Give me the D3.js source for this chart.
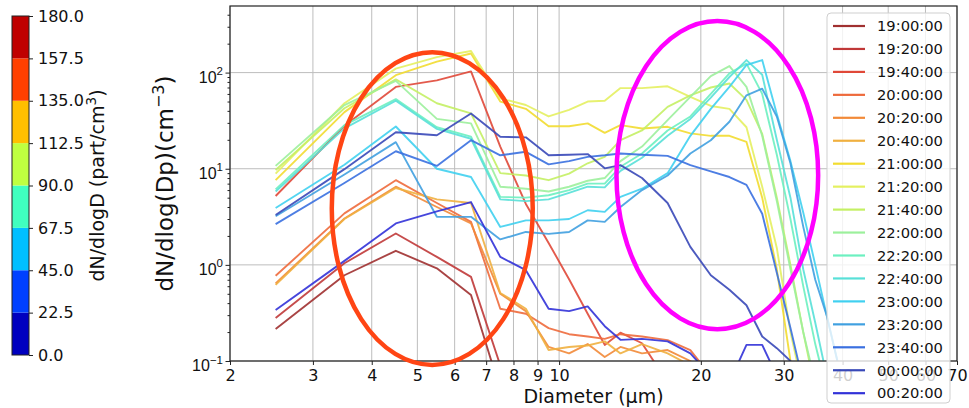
<!DOCTYPE html>
<html><head><meta charset="utf-8">
<script src="https://cdn.jsdelivr.net/npm/d3@7"></script>
<style>
body{margin:0;background:#fff;}
svg{display:block;font-family:"DejaVu Sans",sans-serif;}
</style>
</head><body>
<svg id="c" width="969" height="408"></svg>
<script>
// ---------------- data ----------------
const diameters = [2.5, 3.5, 4.5, 5.5, 6.5, 7.5, 8.5, 9.5, 10.5, 11.5, 12.5, 13.5, 15, 17, 19, 21, 23, 25, 27, 29, 31, 33, 35, 37, 39];
const times = ["19:00:00","19:20:00","19:40:00","20:00:00","20:20:00","20:40:00","21:00:00","21:20:00","21:40:00","22:00:00","22:20:00","22:40:00","23:00:00","23:20:00","23:40:00","00:00:00","00:20:00"];

const s1900 = [0.215, 0.78, 1.40, 0.92, 0.485, 0.05];
const s1920 = [0.28, 1.04, 2.12, 1.21, 0.75, 0.09];
const s1940 = [5.2, 28, 71, 83, 103, 17, 4.3, 1.69, 0.71, 0.31, 0.147, 0.197, 0.153, 0.06];
const s2000 = [0.77, 3.43, 7.6, 4.4, 2.8, 0.35, 0.31, 0.22, 0.19, 0.18, 0.17, 0.19, 0.18, 0.165, 0.13, 0.07];
const s2020 = [0.64, 3.04, 6.5, 4.0, 2.7, 0.50, 0.33, 0.14, 0.12, 0.15, 0.11, 0.14, 0.12, 0.13, 0.10, 0.06];
const s2040 = [0.62, 3.0, 6.3, 4.8, 4.4, 0.51, 0.35, 0.13, 0.14, 0.145, 0.16, 0.12, 0.15, 0.12, 0.09];
const s2100 = [7.6, 38.8, 94, 130, 158, 50, 42, 27.7, 27.7, 29.6, 23.6, 28.4, 26.2, 27.3, 23.3, 22, 22, 19, 5, 0.9, 0.1, 0.03];
const s2120 = [8.9, 48, 110, 145, 168, 54, 46, 35, 41, 50, 51, 69, 69, 72, 56, 45, 42, 27, 6.5, 1.5, 0.2, 0.05];
const s2140 = [9.7, 42.6, 85, 48, 37.6, 9, 8.5, 7.6, 8.9, 11.4, 13.3, 19.8, 25, 44, 58, 70, 77, 52, 23, 5, 1.0, 0.2, 0.05];
const s2200 = [10.7, 46, 82, 33, 29.6, 6.5, 6.2, 5.8, 6.5, 7.5, 8, 12, 17, 32, 56, 92, 117, 71, 22, 4.6, 0.9, 0.2, 0.06];
const s2220 = [6.1, 28.4, 53, 27, 21.6, 5.1, 5.0, 5.3, 6.0, 7.0, 7.0, 10.5, 14.4, 25, 35, 60, 98, 124, 60, 14, 3, 0.6, 0.15, 0.05];
const s2240 = [5.8, 26.3, 51, 26, 20.5, 4.8, 4.6, 4.8, 5.6, 6.5, 6.4, 9.5, 13, 22, 33, 55, 90, 135, 95, 20, 5, 0.9, 0.25, 0.07];
const s2300 = [3.9, 11, 27.5, 10, 8.2, 2.48, 2.9, 2.9, 3.0, 3.7, 3.56, 5.1, 6.2, 9, 22, 42, 71, 120, 135, 37, 12, 3.5, 1.0, 0.3, 0.1];
const s2320 = [3.2, 8.7, 18.9, 3.16, 3.16, 1.84, 2.2, 2.1, 2.2, 2.9, 2.8, 4.0, 6.0, 8.5, 14.4, 19.8, 30.8, 58, 68, 35, 11.4, 2.5, 0.7, 0.3, 0.1];
const s2340 = [2.65, 7.1, 15.2, 10.7, 19.8, 13.8, 15, 11.1, 12, 13.3, 13.8, 14.4, 14, 13.6, 10.9, 9.4, 8.2, 6.8, 3.4, 0.83, 0.22, 0.06];
const s0000 = [3.3, 9.9, 24, 22.3, 37.6, 21.5, 21.2, 13.8, 14, 14.2, 10.1, 10.9, 8.0, 4.4, 1.54, 0.78, 0.55, 0.38, 0.18, 0.136, 0.1, 0.07];
const s0020 = [0.34, 1.1, 2.7, 3.6, 4.5, 1.21, 0.88, 0.35, 0.33, 0.37, 0.23, 0.166, 0.17, 0.16, 0.12, 0.07, 0.06, 0.147, 0.147, 0.07];

const seriesValues = [s1900, s1920, s1940, s2000, s2020, s2040, s2100, s2120, s2140, s2200, s2220, s2240, s2300, s2320, s2340, s0000, s0020];

const xTickValues = [2, 3, 4, 5, 6, 7, 8, 9, 10, 20, 30, 40, 50, 60, 70];
const yTickExponents = [-1, 0, 1, 2];
const colorbarLevels = [0, 22.5, 45, 67.5, 90, 112.5, 135, 157.5, 180];
// highlighted regions (data-space bounds)
const highlightRegions = [
  {d0: 3.29, d1: 8.79, v0: 0.091, v1: 163, color: "#ff4514"},
  {d0: 13.24, d1: 35.5, v0: 0.214, v1: 344, color: "#ff00ff"}
];

// ---------------- styles ----------------
const lineColors = ["#a03030","#c03838","#e04838","#ee6a3c","#f28a38","#f0b040","#f2dc30","#e4f060","#c4f064","#9cf09c","#6cf0c0","#58e0d8","#40d0f0","#40a0e0","#3a70e0","#3848b8","#3232d8"];
const TXT = "#111";

function jet(t){
  const c = v => Math.max(0, Math.min(1, v));
  const r = c(1.5 - Math.abs(4*t - 3)), g = c(1.5 - Math.abs(4*t - 2)), b = c(1.5 - Math.abs(4*t - 1));
  return d3.rgb(r*255, g*255, b*255).formatHex();
}

const svg = d3.select("#c");
const P = {left: 230, right: 957, top: 6, bottom: 361};
const x = d3.scaleLog().domain([2, 70]).range([P.left, P.right]);
const y = d3.scaleLog().domain([0.1, 493]).range([P.bottom, P.top]);

svg.append("defs").append("clipPath").attr("id","plotclip")
  .append("rect").attr("x",P.left).attr("y",P.top).attr("width",P.right-P.left).attr("height",P.bottom-P.top);

// grid
const grid = svg.append("g");
grid.selectAll("line.v").data(xTickValues).join("line")
  .attr("x1", d=>x(d)).attr("x2", d=>x(d)).attr("y1", P.top).attr("y2", P.bottom)
  .attr("stroke","#bdbdbd").attr("stroke-width",1);
grid.selectAll("line.h").data(yTickExponents.map(e=>Math.pow(10,e))).join("line")
  .attr("x1", P.left).attr("x2", P.right).attr("y1", d=>y(d)).attr("y2", d=>y(d))
  .attr("stroke","#bdbdbd").attr("stroke-width",1);

// series lines
const line = d3.line().defined(d => d.v != null).x(d => x(d.d)).y(d => y(d.v));
const lines = svg.append("g").attr("clip-path","url(#plotclip)");
seriesValues.forEach((vals, i) => {
  const pts = diameters.map((d, j) => ({d, v: j < vals.length ? vals[j] : null}));
  lines.append("path").attr("d", line(pts)).attr("fill","none")
    .attr("stroke", lineColors[i]).attr("stroke-width", 1.9).attr("stroke-opacity", 0.9)
    .attr("stroke-linejoin","round");
});

// axes
const xAxis = svg.append("g").attr("transform",`translate(0,${P.bottom})`)
  .call(d3.axisBottom(x).tickValues(xTickValues).tickFormat(d3.format("d")).tickSize(4).tickPadding(5));
xAxis.select(".domain").remove();
xAxis.selectAll("text").attr("font-size",16).attr("fill",TXT).attr("font-family","DejaVu Sans");
xAxis.selectAll("line").attr("stroke","#222");

const yMinor = [];
for (let e = -1; e <= 2; e++) for (let k = 2; k <= 9; k++) { const v = k*Math.pow(10,e); if (v <= 493) yMinor.push(v); }
const yAxisMinor = svg.append("g").attr("transform",`translate(${P.left},0)`)
  .call(d3.axisLeft(y).tickValues(yMinor).tickFormat("").tickSize(2.5));
yAxisMinor.select(".domain").remove();
yAxisMinor.selectAll("line").attr("stroke","#222");
const yAxis = svg.append("g").attr("transform",`translate(${P.left},0)`)
  .call(d3.axisLeft(y).tickValues(yTickExponents.map(e=>Math.pow(10,e))).tickFormat("").tickSize(4.5));
yAxis.select(".domain").remove();
yAxis.selectAll("line").attr("stroke","#222");
yAxis.selectAll(".tick").each(function(d){
  const e = Math.round(Math.log10(d));
  const t = d3.select(this).append("text").attr("x",-7).attr("y",9.5).attr("text-anchor","end")
    .attr("fill",TXT).attr("font-size",16);
  t.append("tspan").text("10");
  t.append("tspan").attr("dy",-7.5).attr("font-size",11.5).text(e < 0 ? "\u2212" + Math.abs(e) : String(e));
});

// frame
svg.append("rect").attr("x",P.left).attr("y",P.top).attr("width",P.right-P.left).attr("height",P.bottom-P.top)
  .attr("fill","none").attr("stroke","#222").attr("stroke-width",1.2);

// highlight ellipses
svg.append("g").selectAll("ellipse").data(highlightRegions).join("ellipse")
  .attr("cx", d => (x(d.d0)+x(d.d1))/2).attr("cy", d => (y(d.v0)+y(d.v1))/2)
  .attr("rx", d => (x(d.d1)-x(d.d0))/2).attr("ry", d => (y(d.v0)-y(d.v1))/2)
  .attr("fill","none").attr("stroke", d=>d.color).attr("stroke-width",4.5);

// axis labels
svg.append("text").attr("x",(P.left+P.right)/2).attr("y",403).attr("text-anchor","middle")
  .attr("font-size",19).attr("fill",TXT).text("Diameter (\u00b5m)");
const yl = svg.append("text").attr("transform",`translate(173,${(P.top+P.bottom)/2}) rotate(-90)`)
  .attr("text-anchor","middle").attr("font-size",23).attr("fill",TXT);
yl.append("tspan").text("dN/dlog(Dp)(cm");
yl.append("tspan").attr("dy",-9.5).attr("font-size",16).text("\u22123");
yl.append("tspan").attr("dy",9.5).text(")");

// legend
const L = {x: 827, y: 13, w: 123, h: 390, row: 22.95, first: 26};
const lg = svg.append("g");
lg.append("rect").attr("x",L.x).attr("y",L.y).attr("width",L.w).attr("height",L.h).attr("rx",4)
  .attr("fill","#fff").attr("fill-opacity",0.8).attr("stroke","#cfcfcf").attr("stroke-width",1);
times.forEach((t,i) => {
  const yy = L.first + i*L.row;
  lg.append("line").attr("x1",L.x+6).attr("x2",L.x+38).attr("y1",yy).attr("y2",yy)
    .attr("stroke",lineColors[i]).attr("stroke-width",2.2);
  lg.append("text").attr("x",L.x+50).attr("y",yy).attr("dy","0.36em").attr("font-size",14.7)
    .attr("fill",TXT).text(t);
});

// colorbar
const CB = {x: 12, w: 17, top: 16, bottom: 355};
const cy = d3.scaleLinear().domain([0,180]).range([CB.bottom, CB.top]);
const cb = svg.append("g");
cb.selectAll("rect").data(d3.pairs(colorbarLevels)).join("rect")
  .attr("x",CB.x).attr("width",CB.w).attr("y",d=>cy(d[1])).attr("height",d=>cy(d[0])-cy(d[1]))
  .attr("fill",(d,i)=>jet((i+0.5)/(colorbarLevels.length-1)));
cb.append("rect").attr("x",CB.x).attr("y",CB.top).attr("width",CB.w).attr("height",CB.bottom-CB.top)
  .attr("fill","none").attr("stroke","#222").attr("stroke-width",1);
const cbAxis = svg.append("g").attr("transform",`translate(${CB.x+CB.w},0)`)
  .call(d3.axisRight(cy).tickValues(colorbarLevels).tickFormat(d3.format(".1f")).tickSize(4).tickPadding(5));
cbAxis.select(".domain").remove();
cbAxis.selectAll("line").attr("stroke","#222");
cbAxis.selectAll("text").attr("font-size",16).attr("fill",TXT).attr("font-family","DejaVu Sans");
const cl = svg.append("text").attr("transform",`translate(104,${(CB.top+CB.bottom)/2}) rotate(-90)`)
  .attr("text-anchor","middle").attr("font-size",19).attr("fill",TXT);
cl.append("tspan").text("dN/dlogD (part/cm");
cl.append("tspan").attr("dy",-8).attr("font-size",13.5).text("3");
cl.append("tspan").attr("dy",8).text(")");
</script>
</body></html>
